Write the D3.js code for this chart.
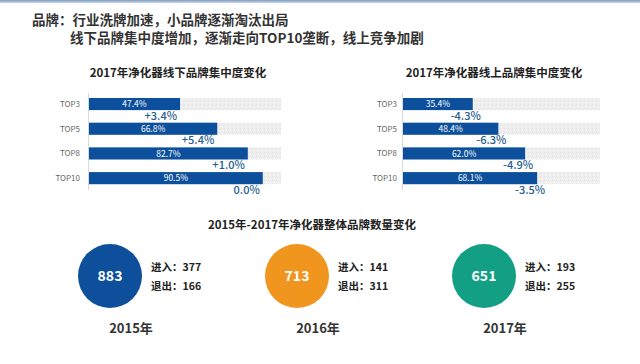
<!DOCTYPE html>
<html><head><meta charset="utf-8">
<script src="https://cdn.jsdelivr.net/npm/d3@7"></script>
<style>
html,body{margin:0;padding:0;background:#fff;}
svg{display:block;font-family:"Noto Sans CJK SC","Noto Sans",sans-serif;}
</style></head>
<body><svg id="c" width="640" height="364"></svg>
<script>
const categories = ["TOP3","TOP5","TOP8","TOP10"];
const offlineValues = [47.4, 66.8, 82.7, 90.5];
const offlineChange = [3.4, 5.4, 1.0, 0.0];
const onlineValues = [35.4, 48.4, 62.0, 68.1];
const onlineChange = [-4.3, -6.3, -4.9, -3.5];
const years = ["2015年","2016年","2017年"];
const totals = [883, 713, 651];
const entries = [377, 141, 193];
const exits = [166, 311, 255];
const yearColors = ["#0d4f9b","#f0951d","#129f84"];

const svg = d3.select("#c");
const defs = svg.append("defs");
const g = defs.append("linearGradient").attr("id","topg").attr("x1",0).attr("y1",0).attr("x2",0).attr("y2",1);
g.append("stop").attr("offset","0%").attr("stop-color","#7f9cc4");
g.append("stop").attr("offset","100%").attr("stop-color","#c9d6e8");
svg.append("rect").attr("x",0).attr("y",0).attr("width",640).attr("height",3).attr("fill","url(#topg)");
const pat = defs.append("pattern").attr("id","tex").attr("width",4).attr("height",4).attr("patternUnits","userSpaceOnUse");
pat.append("rect").attr("width",4).attr("height",4).attr("fill","#eeeeee");
pat.append("rect").attr("x",0).attr("y",0).attr("width",1).attr("height",1).attr("fill","#e0e0e0");
pat.append("rect").attr("x",2).attr("y",2).attr("width",1).attr("height",1).attr("fill","#f8f8f8");
pat.append("rect").attr("x",3).attr("y",1).attr("width",1).attr("height",1).attr("fill","#e4e4e4");

// heading
svg.append("text").attr("x",32).attr("y",25).attr("font-size",13.5).attr("font-weight",700).attr("fill","#333")
  .text("品牌：行业洗牌加速，小品牌逐渐淘汰出局");
svg.append("text").attr("x",70).attr("y",43).attr("font-size",13.5).attr("font-weight",700).attr("fill","#333")
  .text("线下品牌集中度增加，逐渐走向TOP10垄断，线上竞争加剧");

function barChart(opts){
  const x = d3.scaleLinear().domain([0,100]).range([opts.x0, opts.x0 + opts.w]);
  const y = d3.scaleBand().domain(categories).range([91.7,190.5]).paddingInner(0.51).paddingOuter(0.255);
  const gg = svg.append("g");
  gg.append("text").attr("x",opts.tx).attr("y",77).attr("text-anchor","middle").attr("font-size",11.5)
    .attr("font-weight",700).attr("fill","#222").text(opts.title);
  gg.selectAll("rect.bg").data(categories).join("rect").attr("class","bg")
    .attr("x",x(0)).attr("y",d=>y(d)).attr("width",x(100)-x(0)).attr("height",y.bandwidth()).attr("fill","url(#tex)");
  gg.selectAll("rect.bar").data(opts.values).join("rect").attr("class","bar")
    .attr("x",x(0)).attr("y",(d,i)=>y(categories[i])).attr("width",d=>x(d)-x(0)).attr("height",y.bandwidth()).attr("fill","#0c4f9c");
  gg.append("line").attr("x1",x(0)-0.5).attr("x2",x(0)-0.5).attr("y1",93).attr("y2",190).attr("stroke","#d9d9d9");
  gg.selectAll("text.cat").data(categories).join("text").attr("class","cat")
    .attr("x",x(0)-opts.labGap).attr("y",d=>y(d)+y.bandwidth()/2+3).attr("text-anchor","end")
    .attr("font-size",8).attr("fill","#666").text(d=>d);
  gg.selectAll("text.val").data(opts.values).join("text").attr("class","val")
    .attr("x",d=>(x(0)+x(d))/2).attr("y",(d,i)=>y(categories[i])+y.bandwidth()/2+3.3)
    .attr("text-anchor","middle").attr("font-size",8.5).attr("fill","#fff").text(d=>d.toFixed(1)+"%");
  gg.selectAll("text.chg").data(opts.changes).join("text").attr("class","chg")
    .attr("x",(d,i)=>x(opts.values[i])+opts.chgOff).attr("y",(d,i)=>y(categories[i])+y.bandwidth()+9.5)
    .attr("text-anchor","end").attr("font-size",11).attr("font-weight",500).attr("fill","#265d8e")
    .text(d=>(d>0?"+":"")+d.toFixed(1)+"%");
}
barChart({x0:89, w:192, tx:178, title:"2017年净化器线下品牌集中度变化", values:offlineValues, changes:offlineChange, labGap:9, chgOff:-3});
barChart({x0:403, w:197, tx:494, title:"2017年净化器线上品牌集中度变化", values:onlineValues, changes:onlineChange, labGap:6, chgOff:8});

// bottom section
svg.append("text").attr("x",312).attr("y",229).attr("text-anchor","middle").attr("font-size",11.5)
  .attr("font-weight",700).attr("fill","#222").text("2015年-2017年净化器整体品牌数量变化");
const cx = d3.scalePoint().domain(years).range([110,484]);
const grp = svg.selectAll("g.yr").data(years).join("g").attr("class","yr");
grp.append("circle").attr("cx",d=>cx(d)).attr("cy",276).attr("r",32).attr("fill",(d,i)=>yearColors[i]);
grp.append("text").attr("x",d=>cx(d)).attr("y",281).attr("text-anchor","middle").attr("font-size",14)
  .attr("font-weight",700).attr("fill","#fff").text((d,i)=>totals[i]);
grp.append("text").attr("x",d=>cx(d)+41).attr("y",271).attr("font-size",10.5).attr("font-weight",700)
  .attr("fill","#222").text((d,i)=>"进入："+entries[i]);
grp.append("text").attr("x",d=>cx(d)+41).attr("y",290).attr("font-size",10.5).attr("font-weight",700)
  .attr("fill","#222").text((d,i)=>"退出："+exits[i]);
grp.append("text").attr("x",d=>cx(d)+21).attr("y",333).attr("text-anchor","middle").attr("font-size",13)
  .attr("font-weight",700).attr("fill","#333").text(d=>d);
</script></body></html>
